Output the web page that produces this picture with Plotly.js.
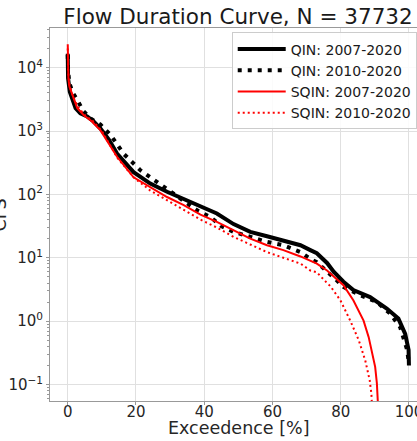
<!DOCTYPE html>
<html>
<head>
<meta charset="utf-8">
<script src="https://cdn.plot.ly/plotly-3.0.1.min.js"></script>
<style>
html, body { margin: 0; padding: 0; overflow: hidden; background: #fff; }
#chart { width: 440px; height: 441px; }
</style>
</head>
<body>
<div id="chart"></div>
<script>
// Exceedence [%] and flow [CFS]
const qin0720_x = [0, 0.02, 0.1, 0.6, 1.3, 2.3, 3.7, 5.7, 7.6, 9.6, 12, 14.5, 19.3, 24.2, 29.1, 34, 38.9, 43.7, 48.6, 53.5, 58.4, 63.2, 68.2, 71.1, 73, 76, 78, 80.8, 83.7, 88.6, 93.5, 96.9, 98.9, 99.9, 100];
const qin0720_y = [16596, 10965, 6761, 4169, 3090, 2291, 1905, 1698, 1413, 1096, 741, 437, 224, 148, 110, 85, 66, 50, 34, 25.7, 21.9, 18.6, 15.8, 13.2, 11.8, 8.3, 6.0, 4.2, 3.09, 2.40, 1.58, 1.10, 0.63, 0.35, 0.20];

const qin1020_x = [0, 0.1, 0.5, 1.5, 2.8, 4.5, 6.6, 9.6, 12.5, 16.4, 21.3, 26.2, 31, 34.5, 37.9, 41.8, 45, 48.6, 53.5, 58.4, 63.2, 68.2, 71.1, 73, 78.9, 80.8, 85.7, 90.6, 94.5, 97.4, 99.5, 100];
const qin1020_y = [15849, 8913, 5623, 3981, 3090, 2089, 1585, 1259, 871, 437, 240, 158, 102, 76, 56, 44, 31.6, 25.7, 21.4, 17.8, 15.8, 12.3, 9.6, 8.5, 4.37, 3.47, 2.57, 2.0, 1.32, 0.81, 0.35, 0.21];

const sqin0720_x = [0, 0.05, 0.2, 0.5, 1.3, 2.8, 4.7, 7.1, 9.6, 12, 14.5, 19.3, 24.2, 29.1, 34, 38.9, 43.7, 48.6, 53.5, 58.4, 63.2, 68.2, 73, 76, 78, 80.8, 83.7, 86.7, 88.2, 89.1, 90.1, 90.6, 91];
const sqin0720_y = [23442, 10965, 6761, 5012, 3715, 2291, 1778, 1413, 1023, 631, 389, 186, 132, 91, 68, 48, 37, 27, 20, 15.8, 13.2, 10.5, 8.1, 6.3, 5.0, 3.7, 2.14, 1.02, 0.56, 0.35, 0.19, 0.105, 0.04];

const sqin1020_x = [0, 0.1, 0.5, 1.5, 3, 5, 7.5, 10, 14.5, 19.3, 24.2, 29.1, 34, 38.9, 43.7, 48.6, 53.5, 58.4, 63.2, 68.2, 71.1, 73, 76, 77, 79.9, 82.8, 85.3, 87.2, 88.5, 89, 89.3];
const sqin1020_y = [19953, 8913, 5248, 3548, 2399, 1778, 1413, 1000, 380, 186, 115, 81, 56, 40, 30, 21.4, 16.2, 12.3, 10, 8.1, 6.3, 5.9, 4.0, 3.55, 2.14, 1.02, 0.50, 0.24, 0.117, 0.071, 0.032];

const seriesNames = ['QIN: 2007-2020', 'QIN: 2010-2020', 'SQIN: 2007-2020', 'SQIN: 2010-2020'];
const yTickVals = [0.1, 1, 10, 100, 1000, 10000];
const yTickText = ['10<sup>\u22121</sup>', '10<sup>0</sup>', '10<sup>1</sup>', '10<sup>2</sup>', '10<sup>3</sup>', '10<sup>4</sup>'];
const xTickVals = [0, 20, 40, 60, 80, 100];

const minorVals = [];
for (let e = -2; e <= 4; e++) {
  for (let m = 2; m <= 9; m++) minorVals.push(m * Math.pow(10, e));
}

const FONT = 'DejaVu Sans, sans-serif';

const traces = [
  { x: qin0720_x, y: qin0720_y, name: seriesNames[0], mode: 'lines',
    line: { color: '#000000', width: 4 } },
  { x: qin1020_x, y: qin1020_y, name: seriesNames[1], mode: 'lines',
    line: { color: '#000000', width: 4, dash: '4px,6px' } },
  { x: sqin0720_x, y: sqin0720_y, name: seriesNames[2], mode: 'lines',
    line: { color: '#ff0000', width: 2 } },
  { x: sqin1020_x, y: sqin1020_y, name: seriesNames[3], mode: 'lines',
    line: { color: '#ff0000', width: 2, dash: '2px,3px' } }
];

const layout = {
  width: 440, height: 441,
  margin: { l: 50, r: 14, t: 28, b: 40, pad: 0 },
  paper_bgcolor: '#ffffff', plot_bgcolor: '#ffffff',
  font: { family: FONT, color: '#262626', size: 15 },
  title: { text: 'Flow Duration Curve, N = 37732', font: { family: FONT, size: 21.5, color: '#1a1a1a' },
           x: 0.5, xref: 'paper', xanchor: 'center', y: 0.9637, yref: 'container', yanchor: 'middle' },
  showlegend: true,
  legend: { x: 0.4833, xanchor: 'left', y: 0.988, yanchor: 'top', itemwidth: 48,
            bgcolor: 'rgba(255,255,255,0.85)', bordercolor: '#cccccc', borderwidth: 1,
            font: { family: FONT, size: 14, color: '#1a1a1a' }, tracegroupgap: 0 },
  xaxis: {
    range: [-5.2, 105], tickmode: 'array', tickvals: xTickVals,
    showgrid: true, gridcolor: '#e0e0e0', gridwidth: 1, zeroline: false,
    showline: true, linecolor: '#999999', linewidth: 1, mirror: true,
    ticks: 'outside', ticklen: 3, tickcolor: '#999999', ticklabelstandoff: -6,
    tickfont: { family: FONT, size: 15, color: '#262626' }
  },
  yaxis: {
    type: 'log', range: [-1.259, 4.625], tickmode: 'array', tickvals: yTickVals, ticktext: yTickText,
    showgrid: true, gridcolor: '#e0e0e0', gridwidth: 1, zeroline: false,
    showline: true, linecolor: '#999999', linewidth: 1, mirror: true,
    ticks: 'outside', ticklen: 3, tickcolor: '#999999',
    minor: { tickmode: 'array', tickvals: minorVals, ticks: 'outside', ticklen: 2, tickcolor: '#999999', showgrid: false },
    tickfont: { family: FONT, size: 15, color: '#262626' }
  },
  annotations: [
    { text: 'Exceedence [%]', xref: 'paper', yref: 'paper', x: 0.5, y: -0.0724,
      xanchor: 'center', yanchor: 'middle', showarrow: false,
      font: { family: FONT, size: 17.5, color: '#262626' } },
    { text: 'CFS', xref: 'paper', yref: 'paper', x: -0.133, y: 0.5, textangle: -90,
      xanchor: 'center', yanchor: 'middle', showarrow: false,
      font: { family: FONT, size: 17.5, color: '#262626' } }
  ]
};

Plotly.newPlot('chart', traces, layout, { displayModeBar: false, staticPlot: true });
</script>
</body>
</html>
